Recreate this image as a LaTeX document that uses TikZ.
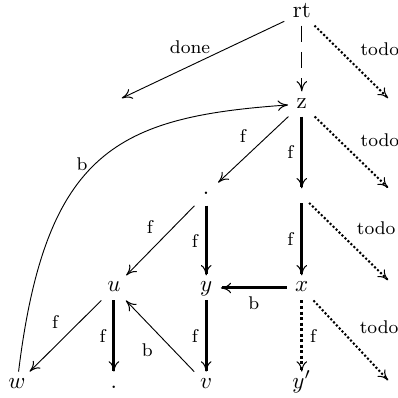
\documentclass[tikz,border=0pt]{standalone}
\usetikzlibrary{arrows.meta}

\begin{document}
\begin{tikzpicture}[
    obj/.style={anchor=base, inner xsep=3.5pt, inner ysep=0pt, text height=7pt, text depth=3.5pt},
    pnt/.style={inner sep=0pt, minimum size=10pt},
    lbl/.style={font=\footnotesize, inner sep=3pt},
    tip/.style={-{Computer Modern Rightarrow[length=4.5pt,width=4.6pt,line width=0.45pt]}},
    arr/.style={tip, line width=0.4pt},
    fat/.style={tip, line width=1.3pt},
    todoline/.style={tip, line width=0.9pt, dash pattern=on 0.9pt off 0.9pt}
  ]
        \useasboundingbox (0,0) rectangle (6.07,-6.08);

        % Root and spine
        \node[obj] (rt) at (4.61,-0.26) {rt};
        \node[obj] (z) at (4.61,-1.65) {z};
        \node[pnt] (dot1) at (3.15,-2.96) {.};
        \node[pnt, minimum size=6pt] (mid) at (4.61,-2.99) {};

        % Row of u, y, x
        \node[obj] (u) at (1.74,-4.46) {$u$};
        \node[obj] (y) at (3.15,-4.46) {$y$};
        \node[obj] (x) at (4.61,-4.46) {$x$};

        % Bottom row
        \node[obj] (w) at (0.26,-5.93) {$w$};
        \node[obj] (dot2) at (1.74,-5.93) {.};
        \node[obj] (v) at (3.15,-5.93) {$v$};
        \node[obj] (yp) at (4.61,-5.93) {$y'$};

        % Free ends
        \coordinate (done) at (1.86,-1.50);
        \coordinate (t1) at (5.93,-1.50);
        \coordinate (t2) at (5.93,-2.87);
        \coordinate (t3) at (5.93,-4.28);
        \coordinate (t4) at (5.93,-5.81);

        % From rt
        \draw[arr, dash pattern=on 7pt off 4.5pt] (rt) -- (z);
        \draw[arr] (rt) -- node[lbl, above=2pt, pos=0.58] {done} (done);
        \draw[todoline] (rt) -- node[lbl, right=6pt, pos=0.33] {todo} (t1);

        % From z
        \draw[fat] (z) -- node[lbl, left] {f} (mid);
        \draw[arr] (z) -- node[lbl, above left] {f} (dot1);
        \draw[todoline] (z) -- node[lbl, right=6pt, pos=0.33] {todo} (t2);

        % Middle
        \draw[fat] (mid) -- node[lbl, left] {f} (x);
        \draw[todoline] (mid) -- node[lbl, right=6pt, pos=0.33] {todo} (t3);
        \draw[arr] (dot1) -- node[lbl, above left] {f} (u);
        \draw[fat] (dot1) -- node[lbl, left] {f} (y);

        % From x
        \draw[fat] (x) -- node[lbl, below] {b} (y);
        \draw[fat, dash pattern=on 1.3pt off 1.1pt] (x) -- node[lbl, right] {f} (yp);
        \draw[todoline] (x) -- node[lbl, right=6pt, pos=0.33] {todo} (t4);

        % Lower part
        \draw[arr] (u) -- node[lbl, above left] {f} (w);
        \draw[fat] (u) -- node[lbl, left] {f} (dot2);
        \draw[arr] (v) -- node[lbl, below left] {b} (u);
        \draw[fat] (y) -- node[lbl, left] {f} (v);

        % Back edge
        \draw[arr] (w) to[out=83, in=184, out distance=97pt, in distance=74pt]
            node[lbl, left, pos=0.48] {b} (z);
\end{tikzpicture}
\end{document}
